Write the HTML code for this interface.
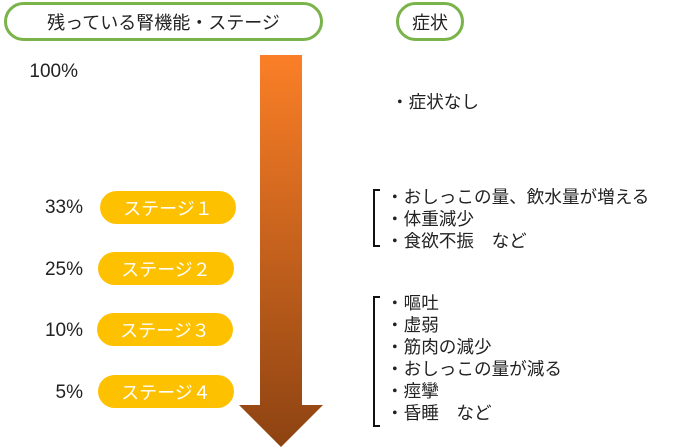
<!DOCTYPE html>
<html><head><meta charset="utf-8"><style>
body{margin:0;width:698px;height:448px;background:#fff;position:relative;overflow:hidden;font-family:"Liberation Sans","Noto Sans CJK JP",sans-serif;color:#222}
.a{position:absolute;white-space:nowrap}
.hdr{position:absolute;border:3px solid #79b349;border-radius:20px;box-sizing:border-box;display:flex;align-items:center;justify-content:center;font-size:18px}
.pill{position:absolute;background:#fdc100;border-radius:17px;color:#fff;font-size:18px;display:flex;align-items:center;justify-content:center;width:136px;height:33px}
.pct{position:absolute;font-size:19px;text-align:right;width:70px}
.br{position:absolute;border:2px solid #111;border-right:none;width:7px;box-sizing:border-box}
.t{position:absolute;left:386px;font-size:17.6px;line-height:22px;white-space:nowrap}
</style></head><body>
<div class="hdr" style="left:4px;top:2px;width:319px;height:39px">残っている腎機能・ステージ</div>
<div class="hdr" style="left:396px;top:2px;width:68px;height:39px">症状</div>
<div class="pct" style="left:8px;top:61px">100%</div>
<div class="pct" style="left:13px;top:197px">33%</div>
<div class="pct" style="left:13px;top:259px">25%</div>
<div class="pct" style="left:13px;top:320px">10%</div>
<div class="pct" style="left:13px;top:382px">5%</div>
<div class="pill" style="left:100px;top:191px">ステージ１</div>
<div class="pill" style="left:98px;top:252px">ステージ２</div>
<div class="pill" style="left:97px;top:313px">ステージ３</div>
<div class="pill" style="left:98px;top:375px">ステージ４</div>
<svg class="a" style="left:0;top:0" width="698" height="448">
<defs><linearGradient id="g" x1="0" y1="55" x2="0" y2="447" gradientUnits="userSpaceOnUse"><stop offset="0" stop-color="#fb7f27"/><stop offset="1" stop-color="#8d4312"/></linearGradient></defs>
<polygon points="260,55 302,55 302,405 323,405 281,447 239,405 260,405" fill="url(#g)"/>
</svg>
<div class="t" style="top:91px;left:391px">・症状なし</div>
<div class="br" style="left:373px;top:189px;height:58px"></div>
<div class="t" style="top:186px">・おしっこの量、飲水量が増える<br>・体重減少<br>・食欲不振　など</div>
<div class="br" style="left:373px;top:296px;height:131px"></div>
<div class="t" style="top:292px">・嘔吐<br>・虚弱<br>・筋肉の減少<br>・おしっこの量が減る<br>・痙攣<br>・昏睡　など</div>
</body></html>
